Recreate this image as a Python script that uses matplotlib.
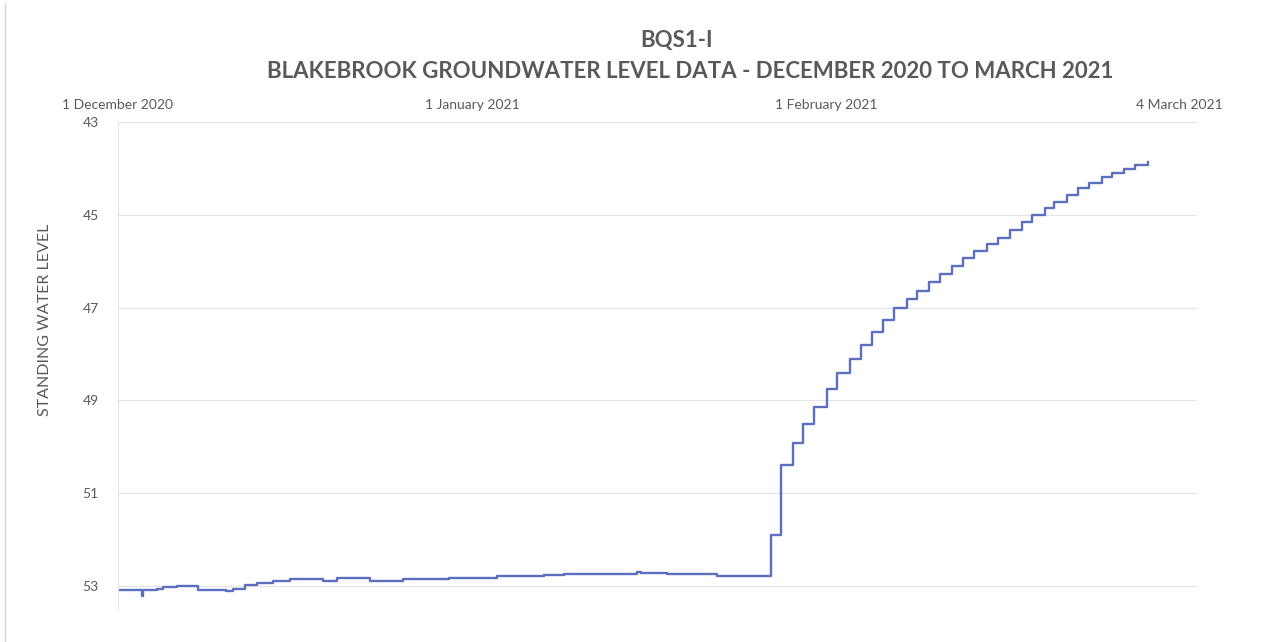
import matplotlib
matplotlib.use("Agg")
import matplotlib.pyplot as plt
import pandas as pd
from matplotlib.lines import Line2D

plt.rcParams['font.family'] = ['Lato', 'DejaVu Sans']

title = "BQS1-I"
subtitle = "BLAKEBROOK GROUNDWATER LEVEL DATA - DECEMBER 2020 TO MARCH 2021"
ylabel = "STANDING WATER LEVEL"

timestamps = [
    "2020-12-01 00:00", "2020-12-03 02:00", "2020-12-03 05:00", "2020-12-04 10:00",
    "2020-12-04 22:00", "2020-12-06 05:00", "2020-12-08 00:00", "2020-12-10 12:00",
    "2020-12-11 02:00", "2020-12-12 02:00", "2020-12-13 05:00", "2020-12-14 14:00",
    "2020-12-16 02:00", "2020-12-18 22:00", "2020-12-20 05:00", "2020-12-23 02:00",
    "2020-12-26 00:00", "2020-12-30 00:00", "2021-01-03 05:00", "2021-01-07 07:00",
    "2021-01-09 02:00", "2021-01-15 10:00", "2021-01-15 19:00", "2021-01-18 02:00",
    "2021-01-22 12:00", "2021-01-27 05:00", "2021-01-28 02:00", "2021-01-29 02:00",
    "2021-01-30 00:00", "2021-01-31 00:00", "2021-02-01 02:00", "2021-02-02 00:00",
    "2021-02-03 02:00", "2021-02-04 02:00", "2021-02-05 00:00", "2021-02-06 00:00",
    "2021-02-07 00:00", "2021-02-08 02:00", "2021-02-09 00:00", "2021-02-10 00:00",
    "2021-02-11 00:00", "2021-02-12 00:00", "2021-02-13 00:00", "2021-02-14 00:00",
    "2021-02-15 02:00", "2021-02-16 02:00", "2021-02-17 02:00", "2021-02-18 05:00",
    "2021-02-19 02:00", "2021-02-20 05:00", "2021-02-21 00:00", "2021-02-22 02:00",
    "2021-02-23 02:00", "2021-02-24 02:00", "2021-02-25 05:00", "2021-02-26 02:00",
    "2021-02-27 02:00", "2021-02-28 02:00", "2021-03-01 05:00",
]
water_level = [
    53.08, 53.21, 53.10, 53.06,
    53.02, 53.00, 53.10, 53.12,
    53.06, 52.99, 52.94, 52.90,
    52.85, 52.89, 52.83, 52.89,
    52.85, 52.84, 52.79, 52.76,
    52.74, 52.70, 52.72, 52.75,
    52.78, 51.90, 50.39, 49.92,
    49.51, 49.14, 48.75, 48.41,
    48.11, 47.80, 47.53, 47.27,
    47.00, 46.81, 46.64, 46.45,
    46.28, 46.10, 45.93, 45.78,
    45.63, 45.50, 45.33, 45.16,
    45.00, 44.85, 44.72, 44.57,
    44.42, 44.31, 44.19, 44.10,
    44.01, 43.93, 43.86,
]

x_tick_dates = ["2020-12-01", "2021-01-01", "2021-02-01", "2021-03-04"]
x_tick_labels = ["1 December 2020", "1 January 2021", "1 February 2021", "4 March 2021"]
y_ticks = [43, 45, 47, 49, 51, 53]

dates = pd.to_datetime(timestamps)

fig = plt.figure(figsize=(12.78, 6.42), dpi=100)
ax = fig.add_axes([118/1278, 1 - 609/642, (1197-118)/1278, (609-122)/642])

ax.plot(dates, water_level, drawstyle='steps-post', color='#5B6FC0', lw=1.7)

ax.set_ylim(53.5, 43)
ax.set_yticks(y_ticks)
ax.set_xlim(pd.Timestamp("2020-12-01"), pd.Timestamp("2021-03-05 12:00"))
ax.set_xticks(pd.to_datetime(x_tick_dates))
ax.set_xticklabels(x_tick_labels)
ax.xaxis.tick_top()

ax.grid(axis='y', color='#E4E4E4', lw=0.9)
ax.set_axisbelow(True)
for s in ['right', 'bottom', 'top']:
    ax.spines[s].set_visible(False)
ax.spines['left'].set_color('#E4E4E4')
ax.tick_params(axis='both', length=0, colors='#595959', labelsize=10)
ax.tick_params(axis='y', pad=14)
ax.tick_params(axis='x', pad=8)

ax.set_ylabel(ylabel, color='#595959', fontsize=11.5)
ax.yaxis.set_label_coords((52 - 118) / 1079, (609 - 320) / 487)

fig.text(676/1278, 1 - 41/642, title, ha='center', va='center',
         fontsize=16, fontweight='bold', color='#595959')
fig.text(690/1278, 1 - 72/642, subtitle, ha='center', va='center',
         fontsize=16, fontweight='bold', color='#595959')

fig.add_artist(Line2D([5/1278, 5/1278], [0, 1 - 3/642], transform=fig.transFigure,
                      color='#D9D9D9', lw=1))

fig.savefig("out.png", dpi=100, facecolor='white')
